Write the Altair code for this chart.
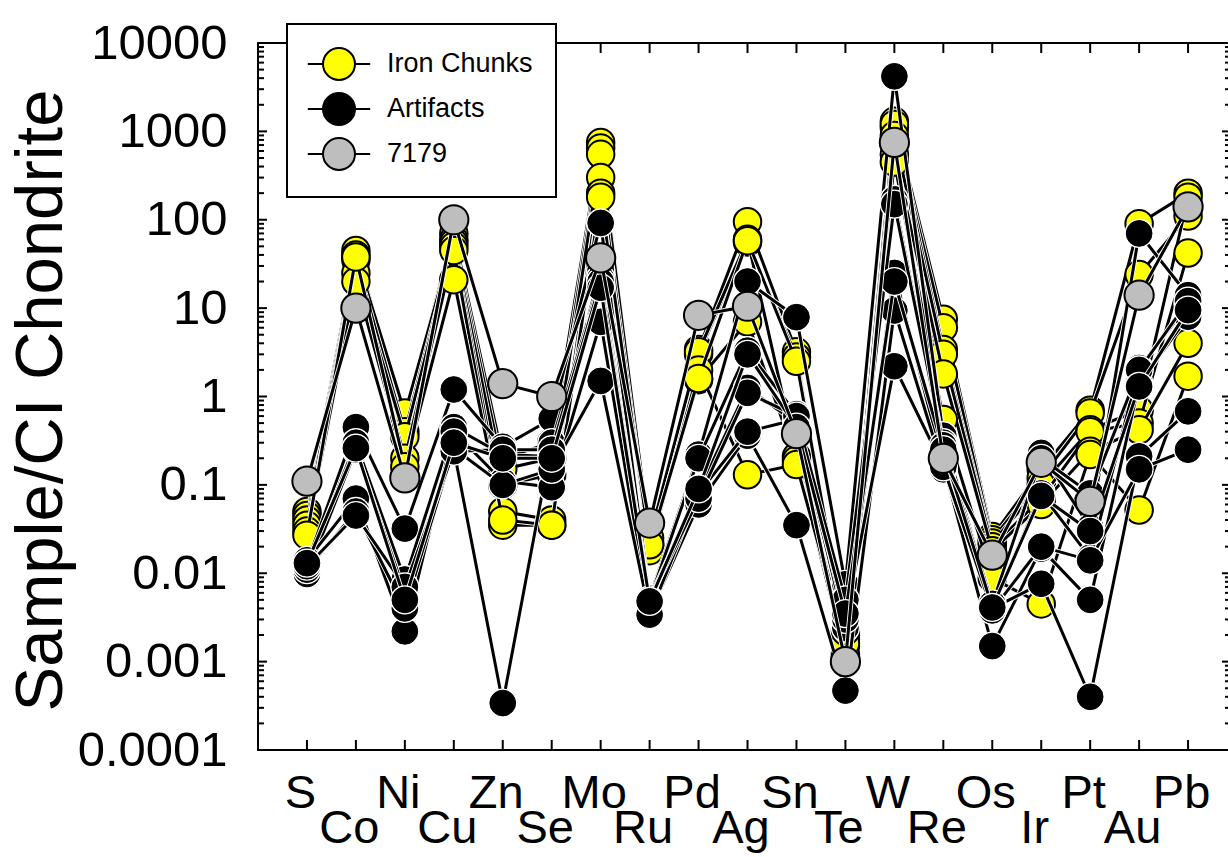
import altair as alt
import pandas as pd

# ---------------- data ----------------
ELEMENTS = ["S", "Co", "Ni", "Cu", "Zn", "Se", "Mo", "Ru", "Pd", "Ag",
            "Sn", "Te", "W", "Re", "Os", "Ir", "Pt", "Au", "Pb"]

# Iron chunks (yellow)
IC1 = [0.05, 45, 0.6, 70, 0.2, 0.3, 750, 0.02, 3.4, 95, 3.2, 0.0015, 1300, 7.5, 0.026, 0.15, 0.7, 90, 200]
IC2 = [0.045, 40, 0.65, 60, 0.15, 0.2, 650, 0.022, 3.0, 56, 2.8, 0.002, 1100, 6.0, 0.024, 0.12, 0.65, 24, 110]
IC3 = [0.04, 35, 0.4, 55, 0.1, 0.13, 550, 0.025, 3.2, 60, 0.21, 0.0018, 1200, 3.4, 0.022, 0.1, 0.42, 0.7, 180]
IC4 = [0.035, 25, 0.35, 50, 0.05, 0.04, 300, 0.02, 1.55, 7.0, 0.19, 0.0012, 900, 3.0, 0.02, 0.07, 0.4, 0.5, 42]
IC5 = [0.03, 20, 0.2, 45, 0.035, 0.035, 200, 0.018, 2.0, 0.13, 0.17, 0.0016, 550, 1.8, 0.018, 0.06, 0.24, 0.42, 4.0]
IC6 = [0.027, 38, 0.16, 21, 0.04, 0.035, 180, 0.021, 1.6, 58, 2.5, 0.0022, 450, 0.55, 0.0088, 0.0045, 0.22, 0.052, 1.7]

# Artifacts (black)
AR1 = [0.013, 0.45, 0.032, 1.2, 0.27, 0.56, 92, 0.0053, 0.22, 20, 7.9, 0.0075, 4200, 0.36, 0.0043, 0.23, 0.033, 70, 14]
AR2 = [0.012, 0.3, 0.0085, 0.45, 0.22, 0.21, 27, 0.005, 0.2, 3.3, 0.63, 0.0037, 170, 0.3, 0.0042, 0.08, 0.015, 2.1, 11]
AR3 = [0.0098, 0.25, 0.006, 0.25, 0.00034, 0.3, 22, 0.0052, 0.085, 1.25, 0.5, 0.0024, 25, 0.17, 0.0015, 0.019, 0.005, 1.4, 8.0]
AR4 = [0.014, 0.07, 0.0022, 0.4, 0.11, 0.094, 7.0, 0.0035, 0.06, 0.36, 0.035, 0.00047, 9.4, 0.15, 0.004, 0.0076, 0.0004, 0.21, 0.68]
AR5 = [0.011, 0.05, 0.004, 0.26, 0.1, 0.15, 1.5, 0.0034, 0.08, 0.4, 0.55, 0.003, 2.2, 0.16, 0.0038, 0.02, 0.014, 0.15, 0.25]
AR6 = [0.012, 0.045, 0.007, 0.24, 0.25, 0.25, 20, 0.005, 0.07, 1.1, 0.6, 0.005, 150, 0.28, 0.0045, 0.2, 0.08, 2.0, 12]
AR7 = [0.013, 0.26, 0.005, 0.3, 0.2, 0.2, 17, 0.0048, 0.09, 3.0, 0.45, 0.0035, 20, 0.25, 0.0041, 0.075, 0.03, 1.3, 9.5]

# Sample 7179 (grey)
S7179 = [0.11, 10, 0.12, 100, 1.4, 1.0, 37, 0.037, 8.3, 10.5, 0.38, 0.001, 750, 0.2, 0.016, 0.18, 0.065, 14, 140]

GROUPS = ["Iron Chunks", "Artifacts", "7179"]
GROUP_COLORS = ["#FFFF00", "#000000", "#BEBEBE"]

SERIES = [
    ("IC1", "Iron Chunks", IC1), ("IC2", "Iron Chunks", IC2), ("IC3", "Iron Chunks", IC3),
    ("IC4", "Iron Chunks", IC4), ("IC5", "Iron Chunks", IC5), ("IC6", "Iron Chunks", IC6),
    ("AR1", "Artifacts", AR1), ("AR2", "Artifacts", AR2), ("AR3", "Artifacts", AR3),
    ("AR4", "Artifacts", AR4), ("AR5", "Artifacts", AR5), ("AR6", "Artifacts", AR6),
    ("AR7", "Artifacts", AR7),
    ("7179", "7179", S7179),
]

Y_TICKS = [0.0001, 0.001, 0.01, 0.1, 1, 10, 100, 1000, 10000]
Y_MINOR = [k * d for d in Y_TICKS[:-1] for k in range(2, 10)]
X_ALL = list(range(len(ELEMENTS)))
X_EVEN = X_ALL[0::2]
X_ODD = X_ALL[1::2]

rows = []
for name, group, vals in SERIES:
    for i, (el, v) in enumerate(zip(ELEMENTS, vals)):
        rows.append({"idx": i, "element": el, "value": v, "series": name, "group": group})
df = pd.DataFrame(rows)

ymajor_df = pd.DataFrame({"tv": Y_TICKS})
yminor_df = pd.DataFrame({"tv": Y_MINOR})
xtick_df = pd.DataFrame({"ti": X_ALL})

# ---------------- chart ----------------
FONT = "Liberation Sans"
W, H = 973, 707
X_MAX = 18.877

x_scale = alt.Scale(domain=[-1, X_MAX], nice=False, zero=False)
y_scale = alt.Scale(type="log", domain=[0.0001, 10000], nice=False)
fill_scale = alt.Scale(domain=GROUPS, range=GROUP_COLORS)

LABEL_EXPR = "[" + ",".join("'%s'" % e for e in ELEMENTS) + "][datum.value]"


def X(axis=None, field="idx:Q"):
    return alt.X(field, scale=x_scale, axis=axis)


def Y(axis=None, field="value:Q"):
    return alt.Y(field, scale=y_scale, axis=axis)


common = dict(grid=False, domain=False, labelFont=FONT, labelColor="black",
              labelFlush=False, labelOverlap=False, labelBound=False,
              ticks=False, tickSize=0)

ax_x_even = alt.Axis(orient="bottom", values=X_EVEN, labelExpr=LABEL_EXPR, labelFontSize=47,
                     labelPadding=20, labelOffset=-7, title=None, **common)
ax_x_odd = alt.Axis(orient="bottom", values=X_ODD, labelExpr=LABEL_EXPR, labelFontSize=47,
                    labelPadding=55, labelOffset=-7, title=None, **common)
ax_y_labels = alt.Axis(orient="left", values=Y_TICKS, format=".4~f", labelFontSize=49,
                       labelPadding=31,
                       title="Sample/CI Chondrite", titleFont=FONT, titleFontSize=67,
                       titleFontWeight="normal", titleColor="black", titleAngle=270,
                       titleBaseline="bottom", titleAlign="center", titleX=-183, titleY=357,
                       **common)

base = alt.Chart(df)
ghost = base.mark_point(opacity=0, size=1)

layers = [
    ghost.encode(x=X(ax_x_even), y=Y(ax_y_labels)),
    ghost.encode(x=X(ax_x_odd), y=Y()),
]

# inward tick marks on all four sides, positioned by the shared scales
tick = dict(color="black", strokeWidth=2)
ymaj = alt.Chart(ymajor_df).mark_rule(**tick)
ymin = alt.Chart(yminor_df).mark_rule(**tick)
xt = alt.Chart(xtick_df).mark_rule(**tick)
layers += [
    ymaj.encode(y=Y(field="tv:Q"), x=alt.value(0), x2=alt.value(9)),
    ymin.encode(y=Y(field="tv:Q"), x=alt.value(0), x2=alt.value(6)),
    ymaj.encode(y=Y(field="tv:Q"), x=alt.value(W), x2=alt.value(W - 9)),
    ymin.encode(y=Y(field="tv:Q"), x=alt.value(W), x2=alt.value(W - 6)),
    xt.encode(x=X(field="ti:Q"), y=alt.value(H), y2=alt.value(H - 10)),
    xt.encode(x=X(field="ti:Q"), y=alt.value(0), y2=alt.value(10)),
]

LEGEND_PATH = "M-1.95,0L-1,0M1,0L1.95,0M-1,0A1,1,0,1,0,1,0A1,1,0,1,0,-1,0Z"
legend = alt.Legend(title=None, orient="none", legendX=29, legendY=-19,
                    symbolType=LEGEND_PATH, symbolSize=1024, symbolStrokeWidth=2,
                    symbolStrokeColor="black", labelFont=FONT, labelFontSize=27,
                    labelColor="black", padding=23, rowPadding=5, symbolOffset=12,
                    labelOffset=31, fillColor="white", strokeColor="black")

for name, group, vals in SERIES:
    sub = base.transform_filter(alt.datum.series == name)
    layers.append(sub.mark_line(color="white", strokeWidth=4.8, strokeCap="round").encode(x=X(), y=Y()))
    layers.append(sub.mark_line(color="black", strokeWidth=3).encode(x=X(), y=Y()))
    if group == "Artifacts":
        layers.append(sub.mark_point(filled=True, shape="circle", size=855, color="white",
                                     opacity=1).encode(x=X(), y=Y()))
        msize, msw = 660, 1
    elif group == "7179":
        msize, msw = 855, 2
    else:
        msize, msw = 755, 2
    layers.append(
        sub.mark_point(filled=True, shape="circle", size=msize, stroke="black",
                       strokeWidth=msw, opacity=1)
        .encode(x=X(), y=Y(), fill=alt.Fill("group:N", scale=fill_scale, legend=legend))
    )

chart = (
    alt.layer(*layers)
    .resolve_axis(x="independent", y="independent")
    .properties(width=W, height=H, autosize="none",
                padding={"left": 258, "top": 43, "right": -3, "bottom": 107},
                background="white")
    .configure_view(stroke="black", strokeWidth=2)
    .configure_legend(strokeWidth=2)
)

chart.save("out.html", embed_options={"renderer": "svg", "actions": False})
